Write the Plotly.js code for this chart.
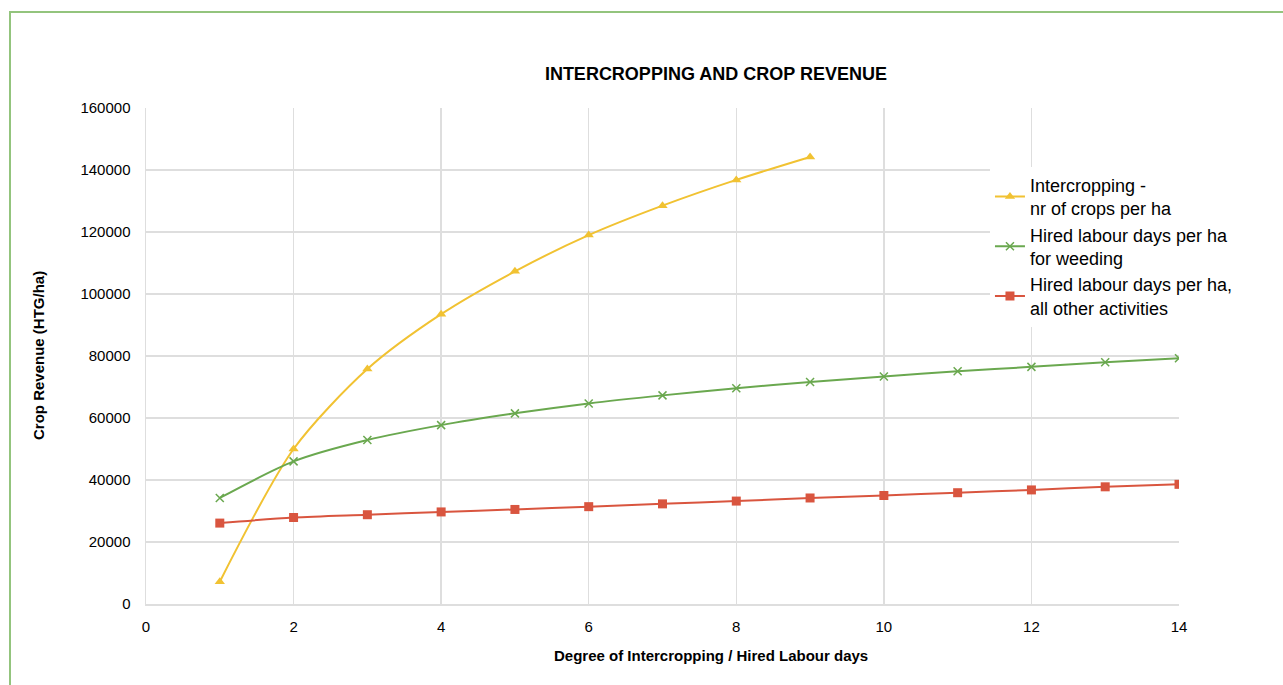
<!DOCTYPE html>
<html>
<head>
<meta charset="utf-8">
<script src="https://cdn.plot.ly/plotly-3.0.1.min.js"></script>
<style>
  html, body { margin: 0; padding: 0; background: #fff; }
  #chart { position: absolute; left: 0; top: 0; width: 1283px; height: 685px; }
  #frame { position: absolute; left: 9px; top: 11px; width: 1400px; height: 800px;
           border-left: 2px solid #93c47d; border-top: 2px solid #93c47d; pointer-events: none; }
</style>
</head>
<body>
<div id="chart"></div>
<div id="frame"></div>
<script>
const xIntercrop = [1, 2, 3, 4, 5, 6, 7, 8, 9];
const yIntercrop = [7200, 50000, 75800, 93500, 107300, 119000, 128500, 136800, 144200];

const xWeeding = [1, 2, 3, 4, 5, 6, 7, 8, 9, 10, 11, 12, 13, 14];
const yWeeding = [34200, 46000, 52900, 57700, 61500, 64700, 67300, 69600, 71600, 73400, 75100, 76500, 78000, 79300];

const xOther = [1, 2, 3, 4, 5, 6, 7, 8, 9, 10, 11, 12, 13, 14];
const yOther = [26100, 27900, 28800, 29700, 30500, 31400, 32300, 33200, 34200, 35000, 35900, 36800, 37800, 38600];

const seriesNames = [
  'Intercropping -<br>nr of crops per ha',
  'Hired labour days per ha<br>for weeding',
  'Hired labour days per ha,<br>all other activities'
];
const chartTitle = 'INTERCROPPING AND CROP REVENUE';
const xTitle = 'Degree of Intercropping / Hired Labour days';
const yTitle = 'Crop Revenue (HTG/ha)';

const FONT = 'Liberation Sans, Arial, sans-serif';

const traces = [
  { x: xIntercrop, y: yIntercrop, name: seriesNames[0], type: 'scatter', mode: 'lines+markers',
    line: { color: '#f1c232', width: 2, shape: 'spline', smoothing: 0.8 },
    marker: { symbol: 'triangle-up', size: 9, color: '#f1c232' } },
  { x: xWeeding, y: yWeeding, name: seriesNames[1], type: 'scatter', mode: 'lines+markers',
    line: { color: '#6aa84f', width: 2, shape: 'spline', smoothing: 0.8 },
    marker: { symbol: 'x-thin', size: 8, color: '#6aa84f', line: { color: '#6aa84f', width: 1.5 } } },
  { x: xOther, y: yOther, name: seriesNames[2], type: 'scatter', mode: 'lines+markers',
    line: { color: '#d9553f', width: 2, shape: 'spline', smoothing: 0.8 },
    marker: { symbol: 'square', size: 9, color: '#d9553f' } }
];

const layout = {
  width: 1283, height: 685,
  paper_bgcolor: '#ffffff', plot_bgcolor: '#ffffff',
  margin: { l: 146, r: 104, t: 108, b: 81 },
  font: { family: FONT, size: 15, color: '#000' },
  title: { text: '<b>' + chartTitle + '</b>', font: { family: FONT, size: 18, color: '#000' },
           xref: 'container', yref: 'container', x: 0.558, y: 0.893, xanchor: 'center', yanchor: 'middle' },
  xaxis: {
    range: [0, 14], tickvals: [0, 2, 4, 6, 8, 10, 12, 14],
    showgrid: true, gridcolor: '#dedede', gridwidth: 1.5,
    zeroline: false, showline: true, linecolor: '#dedede', linewidth: 1.5,
    ticks: '', ticklabelstandoff: 8,
    tickfont: { family: FONT, size: 15, color: '#000' }
  },
  yaxis: {
    range: [0, 160000], tickvals: [0, 20000, 40000, 60000, 80000, 100000, 120000, 140000, 160000],
    tickformat: 'd',
    showgrid: true, gridcolor: '#dedede', gridwidth: 1.5,
    zeroline: false, showline: true, linecolor: '#dedede', linewidth: 1.5,
    ticks: '', ticklabelstandoff: 11,
    tickfont: { family: FONT, size: 15, color: '#000' }
  },
  annotations: [
    { text: '<b>' + xTitle + '</b>', xref: 'paper', yref: 'paper',
      x: (711 - 146) / 1033, y: (604 - 655) / 496, xanchor: 'center', yanchor: 'middle',
      showarrow: false, font: { family: FONT, size: 15, color: '#000' } },
    { text: '<b>' + yTitle + '</b>', xref: 'paper', yref: 'paper', textangle: -90,
      x: (38 - 146) / 1033, y: (604 - 356) / 496, xanchor: 'center', yanchor: 'middle',
      showarrow: false, font: { family: FONT, size: 15, color: '#000' } }
  ],
  legend: {
    x: 0.817, y: 0.882, xanchor: 'left', yanchor: 'top',
    bgcolor: '#ffffff', borderwidth: 0,
    font: { family: FONT, size: 18, color: '#000' },
    tracegroupgap: 1, itemwidth: 30
  },
  showlegend: true
};

Plotly.newPlot('chart', traces, layout, { displayModeBar: false, staticPlot: true });
</script>
</body>
</html>
